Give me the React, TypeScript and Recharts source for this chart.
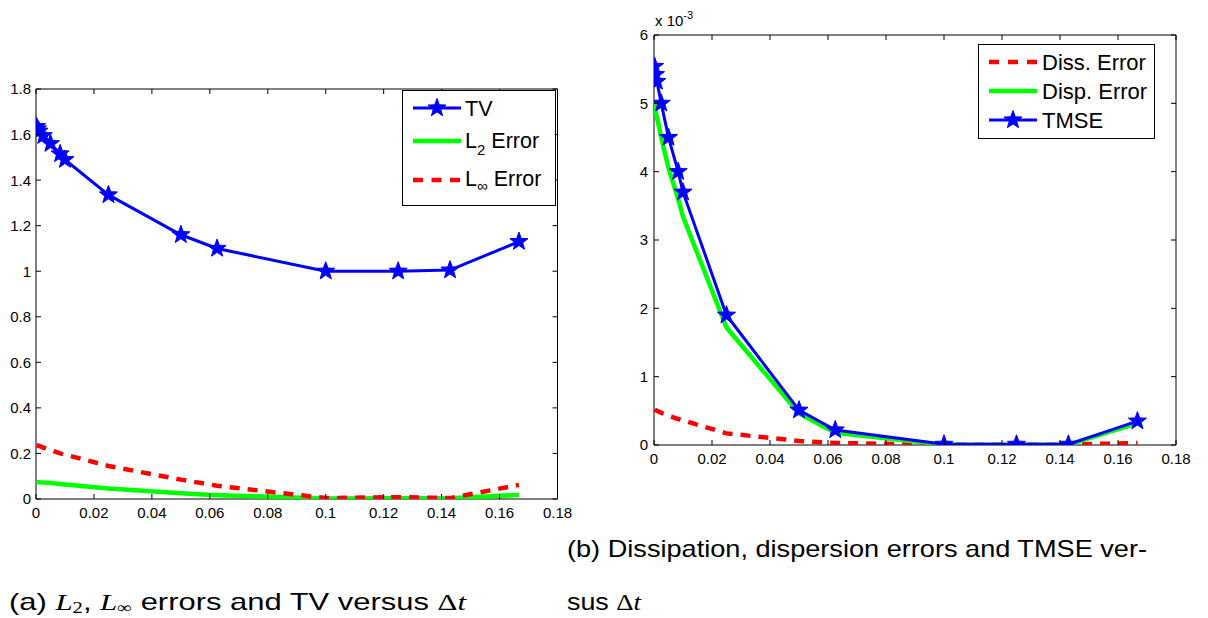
import React from 'react';
import { LineChart, Line, XAxis, YAxis, ReferenceArea, Legend } from 'recharts';

// ---------- data ----------
// time steps Δt (shared by both panels)
const dt = [0.0002, 0.0005, 0.001, 0.0025, 0.005, 0.00833, 0.01, 0.025, 0.05, 0.0625, 0.1, 0.125, 0.1429, 0.1667];

// panel (a)
const tv = [1.635, 1.625, 1.615, 1.595, 1.56, 1.515, 1.49, 1.335, 1.16, 1.1, 1.0, 1.0, 1.005, 1.13];
const l2Error = [0.075, 0.075, 0.074, 0.072, 0.07, 0.066, 0.064, 0.046, 0.025, 0.017, 0.002, 0.003, 0.003, 0.018];
const lInfError = [0.236, 0.235, 0.233, 0.226, 0.215, 0.2, 0.195, 0.145, 0.085, 0.058, 0.004, 0.008, 0.004, 0.062];

// panel (b), values in units of 1e-3
const dissError = [0.52, 0.51, 0.5, 0.47, 0.43, 0.38, 0.36, 0.17, 0.06, 0.03, 0.003, 0.005, 0.005, 0.03];
const dispError = [5.0, 4.9, 4.8, 4.5, 4.05, 3.6, 3.34, 1.72, 0.46, 0.18, 0.005, 0.005, 0.005, 0.32];
const tmse = [5.54, 5.42, 5.32, 5.0, 4.5, 4.0, 3.7, 1.9, 0.51, 0.22, 0.01, 0.01, 0.01, 0.35];

// ticks
const xTicks = [0, 0.02, 0.04, 0.06, 0.08, 0.1, 0.12, 0.14, 0.16, 0.18];
const xTickLabels = ['0', '0.02', '0.04', '0.06', '0.08', '0.1', '0.12', '0.14', '0.16', '0.18'];
const yTicksA = [0, 0.2, 0.4, 0.6, 0.8, 1, 1.2, 1.4, 1.6, 1.8];
const yTickLabelsA = ['0', '0.2', '0.4', '0.6', '0.8', '1', '1.2', '1.4', '1.6', '1.8'];
const yTicksB = [0, 1, 2, 3, 4, 5, 6];
const yTickLabelsB = ['0', '1', '2', '3', '4', '5', '6'];

const dataA = dt.map((x, i) => ({ dt: x, tv: tv[i], l2: l2Error[i], linf: lInfError[i] }));
const dataB = dt.map((x, i) => ({ dt: x, diss: dissError[i], disp: dispError[i], tmse: tmse[i] }));

// ---------- styling ----------
const FONT = '"Liberation Sans", Arial, Helvetica, sans-serif';
const SERIF = '"Liberation Serif", "DejaVu Serif", serif';
const BLUE = '#0000FF';
const GREEN = '#00FF00';
const RED = '#FF0000';
const TICK_LEN = 5;
const X_MARGIN = 8;
const Y_MARGIN = 5;

const starPoints = (cx: number, cy: number, R: number, r: number) => {
  const pts: string[] = [];
  for (let k = 0; k < 10; k++) {
    const a = (-90 + k * 36) * Math.PI / 180;
    const rad = k % 2 === 0 ? R : r;
    pts.push(`${(cx + rad * Math.cos(a)).toFixed(2)},${(cy + rad * Math.sin(a)).toFixed(2)}`);
  }
  return pts.join(' ');
};

const Star = ({ cx, cy }: { cx: number; cy: number }) => (
  <polygon points={starPoints(cx, cy, 9.5, 3.9)} fill={BLUE} stroke={BLUE} strokeWidth={1} />
);

const renderStar = (p: any) => {
  if (p.cx == null || p.cy == null) return <g key={`s-${p.index}`} />;
  return <Star key={`s-${p.index}`} cx={p.cx} cy={p.cy} />;
};

const makeBottomTick = (labels: string[], plotTop: number) => (props: any) => {
  const { x, y, index } = props;
  const axisY = y - X_MARGIN;
  return (
    <g>
      <line x1={x} x2={x} y1={axisY} y2={axisY - TICK_LEN} stroke="#000" strokeWidth={1} />
      <line x1={x} x2={x} y1={plotTop} y2={plotTop + TICK_LEN} stroke="#000" strokeWidth={1} />
      <text x={x} y={y} dy="0.71em" textAnchor="middle" fontSize={15} fontFamily={FONT} fill="#000">
        {labels[index]}
      </text>
    </g>
  );
};

const makeLeftTick = (labels: string[], plotRight: number, margin: number) => (props: any) => {
  const { x, y, index } = props;
  const axisX = x + margin;
  return (
    <g>
      <line x1={axisX} x2={axisX + TICK_LEN} y1={y} y2={y} stroke="#000" strokeWidth={1} />
      <line x1={plotRight} x2={plotRight - TICK_LEN} y1={y} y2={y} stroke="#000" strokeWidth={1} />
      <text x={x} y={y} dy="0.36em" textAnchor="end" fontSize={15} fontFamily={FONT} fill="#000">
        {labels[index]}
      </text>
    </g>
  );
};

// ---------- legends ----------
const LegendA = () => (
  <svg width={156} height={118} style={{ display: 'block' }}>
    <rect x={0.5} y={0.5} width={153} height={115} fill="#fff" stroke="#000" strokeWidth={1} />
    <line x1={11} x2={59} y1={18} y2={18} stroke={BLUE} strokeWidth={3} />
    <Star cx={35} cy={18} />
    <text x={63} y={26} fontSize={21.5} fontFamily={FONT} fill="#000">TV</text>
    <line x1={11} x2={59} y1={51} y2={51} stroke={GREEN} strokeWidth={4.5} />
    <text x={63} y={58} fontSize={21.5} fontFamily={FONT} fill="#000">
      L<tspan fontSize={15} dy={7}>2</tspan><tspan dy={-7}> Error</tspan>
    </text>
    <line x1={11} x2={59} y1={90} y2={90} stroke={RED} strokeWidth={4.5} strokeDasharray="10 8.5" />
    <text x={63} y={96} fontSize={21.5} fontFamily={FONT} fill="#000">
      L<tspan fontSize={15} dy={5}>∞</tspan><tspan dy={-5}> Error</tspan>
    </text>
  </svg>
);

const LegendB = () => (
  <svg width={178} height={96} style={{ display: 'block' }}>
    <rect x={0.5} y={0.5} width={176} height={94} fill="#fff" stroke="#000" strokeWidth={1} />
    <line x1={11} x2={59} y1={18} y2={18} stroke={RED} strokeWidth={4.5} strokeDasharray="10 9" />
    <text x={64} y={25.5} fontSize={22} fontFamily={FONT} fill="#000">Diss. Error</text>
    <line x1={11} x2={59} y1={47} y2={47} stroke={GREEN} strokeWidth={4.5} />
    <text x={64} y={54.5} fontSize={22} fontFamily={FONT} fill="#000">Disp. Error</text>
    <line x1={11} x2={59} y1={76} y2={76} stroke={BLUE} strokeWidth={3} />
    <Star cx={35} cy={76} />
    <text x={64} y={83.5} fontSize={22} fontFamily={FONT} fill="#000">TMSE</text>
  </svg>
);

// ---------- layout ----------
const A = { w: 600, h: 530, left: 36, top: 89, right: 557.5, bottom: 499 };
const B = { x0: 600, w: 608, h: 480, left: 654, top: 35, right: 1176, bottom: 445 };

export default function App() {
  return (
    <div style={{ position: 'absolute', left: 0, top: 0, width: 1208, height: 618, background: '#fff', overflow: 'hidden' }}>
      {/* Panel (a) */}
      <div style={{ position: 'absolute', left: 0, top: 0 }}>
        <LineChart
          width={A.w}
          height={A.h}
          data={dataA}
          margin={{ top: A.top, right: A.w - A.right, bottom: 0, left: 0 }}
        >
          <XAxis
            type="number"
            dataKey="dt"
            domain={[0, 0.18]}
            ticks={xTicks}
            interval={0}
            height={A.h - A.bottom}
            axisLine={false}
            tickLine={false}
            tickSize={0}
            tickMargin={X_MARGIN}
            tick={makeBottomTick(xTickLabels, A.top)}
            allowDataOverflow
          />
          <YAxis
            type="number"
            domain={[0, 1.8]}
            ticks={yTicksA}
            interval={0}
            width={A.left}
            axisLine={false}
            tickLine={false}
            tickSize={0}
            tickMargin={Y_MARGIN}
            tick={makeLeftTick(yTickLabelsA, A.right, Y_MARGIN)}
            allowDataOverflow
          />
          <ReferenceArea x1={0} x2={0.18} y1={0} y2={1.8} fill="none" fillOpacity={0} stroke="#000" strokeWidth={1} />
          <Line type="linear" dataKey="tv" stroke={BLUE} strokeWidth={3} dot={renderStar} activeDot={false} isAnimationActive={false} />
          <Line type="linear" dataKey="l2" stroke={GREEN} strokeWidth={4.5} dot={false} activeDot={false} isAnimationActive={false} />
          <Line type="linear" dataKey="linf" stroke={RED} strokeWidth={4.5} strokeDasharray="10 8" dot={false} activeDot={false} isAnimationActive={false} />
          <Legend
            layout="vertical"
            align="center"
            verticalAlign="middle"
            wrapperStyle={{ position: 'absolute', left: 402, top: 90, width: 156, height: 118 }}
            content={() => <LegendA />}
          />
        </LineChart>
      </div>

      {/* Panel (b) */}
      <div style={{ position: 'absolute', left: B.x0, top: 0 }}>
        <LineChart
          width={B.w}
          height={B.h}
          data={dataB}
          margin={{ top: B.top, right: B.x0 + B.w - B.right, bottom: 0, left: 0 }}
        >
          <XAxis
            type="number"
            dataKey="dt"
            domain={[0, 0.18]}
            ticks={xTicks}
            interval={0}
            height={B.h - B.bottom}
            axisLine={false}
            tickLine={false}
            tickSize={0}
            tickMargin={X_MARGIN}
            tick={makeBottomTick(xTickLabels, B.top)}
            allowDataOverflow
          />
          <YAxis
            type="number"
            domain={[0, 6]}
            ticks={yTicksB}
            interval={0}
            width={B.left - B.x0}
            axisLine={false}
            tickLine={false}
            tickSize={0}
            tickMargin={Y_MARGIN + 1}
            tick={makeLeftTick(yTickLabelsB, B.right - B.x0, Y_MARGIN + 1)}
            allowDataOverflow
          />
          <ReferenceArea x1={0} x2={0.18} y1={0} y2={6} fill="none" fillOpacity={0} stroke="#000" strokeWidth={1} />
          <Line type="linear" dataKey="diss" stroke={RED} strokeWidth={4.5} strokeDasharray="10 8" dot={false} activeDot={false} isAnimationActive={false} />
          <Line type="linear" dataKey="disp" stroke={GREEN} strokeWidth={4.5} dot={false} activeDot={false} isAnimationActive={false} />
          <Line type="linear" dataKey="tmse" stroke={BLUE} strokeWidth={3} dot={renderStar} activeDot={false} isAnimationActive={false} />
          <Legend
            layout="vertical"
            align="center"
            verticalAlign="middle"
            wrapperStyle={{ position: 'absolute', left: 978 - B.x0, top: 44, width: 178, height: 96 }}
            content={() => <LegendB />}
          />
        </LineChart>
      </div>

      {/* exponent label and captions */}
      <svg width={1208} height={618} style={{ position: 'absolute', left: 0, top: 0, pointerEvents: 'none' }}>
        <text x={655} y={26} fontSize={15} fontFamily={FONT} fill="#000">
          x 10<tspan fontSize={11} dy={-7}>-3</tspan>
        </text>
        <text x={567} y={557} fontSize={24} fontFamily={FONT} fill="#000" textLength={580} lengthAdjust="spacingAndGlyphs">
          (b) Dissipation, dispersion errors and TMSE ver-
        </text>
        <text x={567} y={610} fontSize={24} fontFamily={FONT} fill="#000" textLength={74} lengthAdjust="spacingAndGlyphs">
          sus <tspan fontFamily={SERIF}>Δ</tspan><tspan fontFamily={SERIF} fontStyle="italic">t</tspan>
        </text>
        <text x={9} y={610} fontSize={24} fontFamily={FONT} fill="#000" textLength={457} lengthAdjust="spacingAndGlyphs">
          (a) <tspan fontFamily={SERIF} fontStyle="italic">L</tspan>
          <tspan fontFamily={SERIF} fontSize={16} dy={3}>2</tspan>
          <tspan dy={-3}>, </tspan>
          <tspan fontFamily={SERIF} fontStyle="italic">L</tspan>
          <tspan fontFamily={SERIF} fontSize={16} dy={3}>∞</tspan>
          <tspan dy={-3}> errors and TV versus </tspan>
          <tspan fontFamily={SERIF}>Δ</tspan>
          <tspan fontFamily={SERIF} fontStyle="italic">t</tspan>
        </text>
      </svg>
    </div>
  );
}
